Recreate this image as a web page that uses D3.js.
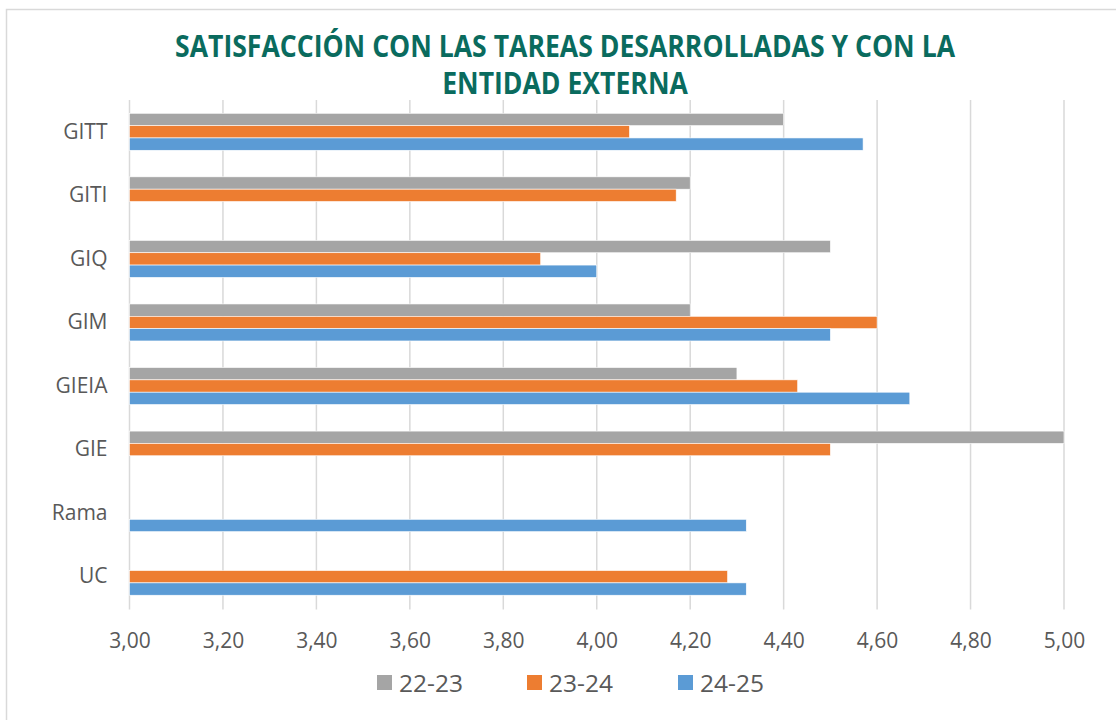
<!DOCTYPE html>
<html>
<head>
<meta charset="utf-8">
<script src="https://cdn.jsdelivr.net/npm/d3@7"></script>
<style>
  body { margin: 0; background: #fff; }
  #chart { width: 1116px; height: 720px; }
</style>
</head>
<body>
<div id="chart"></div>
<script>
// Chart data
const categories = ['GITT', 'GITI', 'GIQ', 'GIM', 'GIEIA', 'GIE', 'Rama', 'UC'];
const seriesNames = ['22-23', '23-24', '24-25'];
const values2223 = [4.40, 4.20, 4.50, 4.20, 4.30, 5.00, null, null];
const values2324 = [4.07, 4.17, 3.88, 4.60, 4.43, 4.50, null, 4.28];
const values2425 = [4.57, null, 4.00, 4.50, 4.67, null, 4.32, 4.32];
const xTicks = [3.0, 3.2, 3.4, 3.6, 3.8, 4.0, 4.2, 4.4, 4.6, 4.8, 5.0];
const colors = ['#a5a5a5', '#ed7d31', '#5b9bd5'];
const titleLines = ['SATISFACCIÓN CON LAS TAREAS DESARROLLADAS Y CON LA', 'ENTIDAD EXTERNA'];

const allSeries = [values2223, values2324, values2425];

const width = 1116, height = 720;
const plot = { left: 129.5, right: 1064, top: 100, bottom: 608.5 };
const textFont = "'Open Sans', 'Noto Sans', sans-serif";

const svg = d3.select('#chart').append('svg')
    .attr('width', width)
    .attr('height', height);

svg.append('rect')
    .attr('width', width).attr('height', height)
    .attr('fill', '#fff');

// Chart border
svg.append('rect')
    .attr('x', 6.5).attr('y', 9.5)
    .attr('width', width + 10).attr('height', height + 10)
    .attr('fill', 'none')
    .attr('stroke', '#d9d9d9')
    .attr('stroke-width', 1.5);

// Title - narrow bold look: taller font squeezed to the reference width
const title = svg.append('text')
    .attr('text-anchor', 'middle')
    .style('font-family', "'Open Sans', 'Noto Sans', sans-serif")
    .style('font-weight', 'bold')
    .style('font-size', '30px')
    .attr('fill', '#0a6b5e');
const tspans = title.selectAll('tspan')
    .data(titleLines)
    .enter().append('tspan')
    .attr('x', 565)
    .attr('y', (d, i) => 57 + i * 37)
    .text(d => d);
const squeeze = 780 / tspans.nodes()[0].getComputedTextLength();
tspans.each(function() {
    const len = this.getComputedTextLength();
    d3.select(this)
        .attr('textLength', len * squeeze)
        .attr('lengthAdjust', 'spacingAndGlyphs');
});

// Scales
const x = d3.scaleLinear().domain([3, 5]).range([plot.left, plot.right]);
const y = d3.scaleBand().domain(categories).range([plot.top, plot.bottom])
    .paddingInner(0.418).paddingOuter(0.209);
const ySub = d3.scaleBand().domain(seriesNames).range([0, y.bandwidth()]);

// Gridlines
svg.append('g')
    .selectAll('line')
    .data(xTicks)
    .enter().append('line')
    .attr('x1', d => x(d)).attr('x2', d => x(d))
    .attr('y1', plot.top).attr('y2', plot.bottom + 1)
    .attr('stroke', '#d9d9d9')
    .attr('stroke-width', 1.5);

// Bars
const rows = [];
categories.forEach((c, i) => {
    seriesNames.forEach((s, j) => {
        if (allSeries[j][i] != null) rows.push({ cat: c, series: s, value: allSeries[j][i], color: colors[j] });
    });
});

svg.append('g')
    .selectAll('rect')
    .data(rows)
    .enter().append('rect')
    .attr('x', x(3))
    .attr('y', d => y(d.cat) + ySub(d.series))
    .attr('width', d => x(d.value) - x(3))
    .attr('height', ySub.bandwidth())
    .attr('fill', d => d.color)
    .attr('stroke', '#fff')
    .attr('stroke-width', 0.6);

// X axis labels
const fmt = d3.format('.2f');
const xAxis = d3.axisBottom(x)
    .tickValues(xTicks)
    .tickSize(0)
    .tickPadding(0)
    .tickFormat(d => fmt(d).replace('.', ','));
const xg = svg.append('g')
    .attr('transform', `translate(0, ${plot.bottom + 25})`)
    .call(xAxis);
xg.select('.domain').remove();
xg.selectAll('text')
    .attr('fill', '#595959')
    .style('font-family', textFont)
    .style('font-size', '21px');

// Y axis labels
const yAxis = d3.axisLeft(y).tickSize(0).tickPadding(0);
const yg = svg.append('g')
    .attr('transform', `translate(${plot.left - 22}, 0)`)
    .call(yAxis);
yg.select('.domain').remove();
yg.selectAll('text')
    .attr('fill', '#595959')
    .style('font-family', textFont)
    .style('font-size', '21px');

// Legend
const legendX = [377, 527, 678];
const legend = svg.append('g');
seriesNames.forEach((s, i) => {
    legend.append('rect')
        .attr('x', legendX[i]).attr('y', 675)
        .attr('width', 15).attr('height', 15)
        .attr('fill', colors[i]);
    legend.append('text')
        .attr('x', legendX[i] + 22).attr('y', 692)
        .attr('fill', '#595959')
        .style('font-family', textFont)
        .style('font-size', '24.5px')
        .text(s);
});
</script>
</body>
</html>
